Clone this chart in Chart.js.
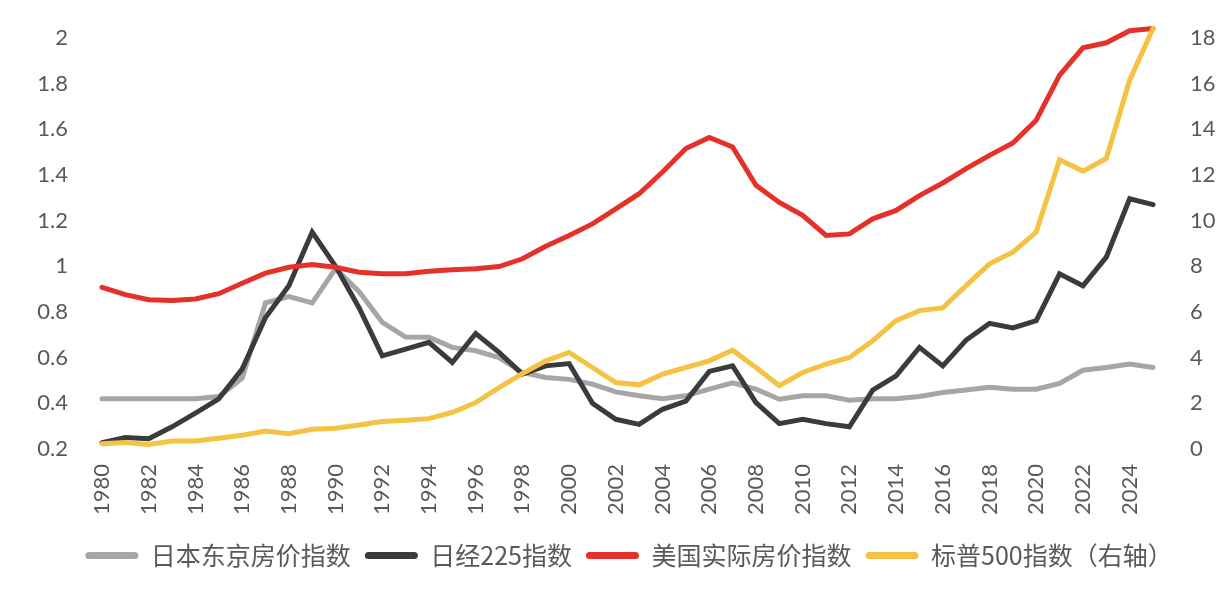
<!DOCTYPE html>
<html>
<head>
<meta charset="utf-8">
<script src="https://cdn.jsdelivr.net/npm/chart.js@4"></script>
<style>
html,body{margin:0;padding:0;background:#fff;}
#wrap{width:1228px;height:590px;position:relative;}
</style>
</head>
<body>
<div id="wrap"><canvas id="c" width="1228" height="590"></canvas></div>
<script>
const years = ['1980','1981','1982','1983','1984','1985','1986','1987','1988','1989','1990','1991','1992','1993','1994','1995','1996','1997','1998','1999','2000','2001','2002','2003','2004','2005','2006','2007','2008','2009','2010','2011','2012','2013','2014','2015','2016','2017','2018','2019','2020','2021','2022','2023','2024','2025'];

const tokyoHouse = [0.42,0.42,0.42,0.42,0.42,0.43,0.51,0.84,0.867,0.84,0.99,0.89,0.755,0.69,0.689,0.645,0.63,0.60,0.535,0.513,0.505,0.484,0.45,0.433,0.42,0.433,0.462,0.49,0.462,0.418,0.433,0.433,0.414,0.42,0.42,0.43,0.447,0.458,0.47,0.462,0.462,0.487,0.545,0.557,0.572,0.557];

const nikkei = [0.228,0.25,0.245,0.297,0.357,0.42,0.55,0.776,0.915,1.15,1.0,0.82,0.608,0.637,0.667,0.579,0.706,0.623,0.528,0.564,0.574,0.40,0.33,0.308,0.374,0.41,0.54,0.564,0.403,0.311,0.33,0.311,0.297,0.458,0.52,0.645,0.564,0.677,0.75,0.73,0.762,0.967,0.915,1.04,1.296,1.27];

const usHouse = [0.908,0.876,0.854,0.85,0.857,0.88,0.926,0.97,0.996,1.008,0.996,0.974,0.967,0.968,0.978,0.985,0.989,0.999,1.033,1.088,1.135,1.186,1.252,1.318,1.413,1.516,1.564,1.523,1.355,1.28,1.223,1.135,1.142,1.208,1.245,1.31,1.365,1.428,1.486,1.54,1.64,1.837,1.957,1.979,2.032,2.042];

const sp500 = [0.23,0.28,0.2,0.35,0.35,0.47,0.6,0.79,0.67,0.86,0.91,1.05,1.2,1.26,1.33,1.6,2.03,2.69,3.3,3.86,4.23,3.57,2.91,2.81,3.28,3.57,3.86,4.33,3.57,2.77,3.35,3.72,4.01,4.74,5.62,6.06,6.18,7.16,8.11,8.62,9.5,12.67,12.17,12.72,16.15,18.42];

const leftTicks = [0.2,0.4,0.6,0.8,1,1.2,1.4,1.6,1.8,2];
const rightTicks = [0,2,4,6,8,10,12,14,16,18];

const seriesNames = ['日本东京房价指数','日经225指数','美国实际房价指数','标普500指数（右轴）'];
const colors = ['#A6A6A6','#3B3B3B','#E5312A','#F4C343'];

const tickColor = '#595959';
const tickFont = {family:'Lato', size:22};

function ds(label, data, color, axis, order){
  return {label, data, borderColor: color, backgroundColor: color, borderWidth: 5,
    pointRadius: 0, pointHoverRadius: 0, tension: 0, yAxisID: axis, order, clip: false,
    borderCapStyle: 'round', borderJoinStyle: 'miter'};
}

new Chart(document.getElementById('c'), {
  type: 'line',
  data: {
    labels: years,
    datasets: [
      ds(seriesNames[0], tokyoHouse, colors[0], 'y', 4),
      ds(seriesNames[1], nikkei, colors[1], 'y', 3),
      ds(seriesNames[2], usHouse, colors[2], 'y', 2),
      ds(seriesNames[3], sp500, colors[3], 'y1', 1)
    ]
  },
  options: {
    responsive: false,
    animation: false,
    devicePixelRatio: 1,
    layout: {padding: {top: 38, left: 30, right: 0, bottom: 12}},
    plugins: {
      tooltip: {enabled: false},
      legend: {
        position: 'bottom',
        labels: {
          boxWidth: 53, boxHeight: 7, padding: 14,
          useBorderRadius: true, borderRadius: 3.5,
          color: tickColor,
          font: {family: '"Noto Sans CJK SC"', size: 25},
          generateLabels(chart){
            return chart.data.datasets.map((d,i)=>({
              text: d.label, fillStyle: d.borderColor, strokeStyle: d.borderColor,
              lineWidth: 0, hidden: false, datasetIndex: i, fontColor: tickColor, borderRadius: 3.5
            }));
          }
        }
      }
    },
    scales: {
      x: {
        offset: false,
        grid: {display: false, drawTicks: false},
        border: {display: false},
        ticks: {color: tickColor, font: tickFont, minRotation: 90, maxRotation: 90, autoSkip: false,
          padding: 15,
          callback(v, i){ return (i % 2 === 0) ? years[i] : ''; }},
        afterFit(s){ s.height = 80; s.paddingLeft = 0; s.paddingRight = 0; }
      },
      y: {
        position: 'left',
        min: 0.2, max: 2,
        afterBuildTicks(s){ s.ticks = leftTicks.map(v=>({value:v})); },
        grid: {display: false, drawTicks: false},
        border: {display: false},
        ticks: {color: tickColor, font: tickFont, padding: 34,
          callback(v){ return String(Math.round(v*10)/10); }},
        afterFit(s){ s.width = 72; s.paddingTop = 0; s.paddingBottom = 0; }
      },
      y1: {
        position: 'right',
        min: 0, max: 18,
        afterBuildTicks(s){ s.ticks = rightTicks.map(v=>({value:v})); },
        grid: {display: false, drawTicks: false},
        border: {display: false},
        ticks: {color: tickColor, font: tickFont, padding: 37,
          callback(v){ return String(v); }},
        afterFit(s){ s.width = 75; s.paddingTop = 0; s.paddingBottom = 0; }
      }
    }
  }
});
</script>
</body>
</html>
